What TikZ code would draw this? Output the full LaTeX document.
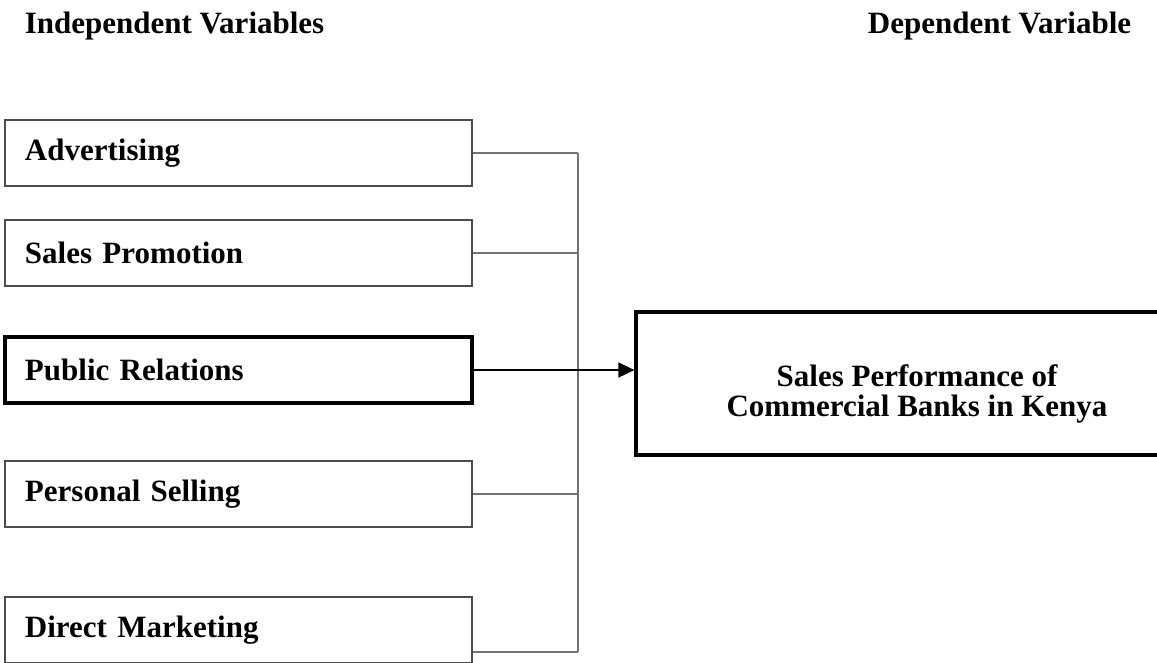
\documentclass[tikz,border=0pt]{standalone}
\usepackage{fontspec}
\setmainfont{Liberation Serif}
\usetikzlibrary{arrows.meta}

\begin{document}
\begin{tikzpicture}[x=0.4pt, y=-0.4pt,
  every node/.style={font=\fontsize{12.4}{12}\selectfont\bfseries},
  ivar/.style={draw=black!70, line width=0.5pt, text width=170.8pt,
    inner xsep=8pt, minimum height=26.4pt, align=left},
  dvar/.style={draw=black, line width=1.3pt, minimum width=224.8pt,
    minimum height=57.2pt},
  link/.style={draw=black!55, line width=0.55pt}]
  \useasboundingbox (0,0) rectangle (1157,662);
  \clip (0,0) rectangle (1157,662);
  \node [anchor=base west] (ivtitle) at (16,33) {Independent Variables};
  \node [anchor=base east] (dvtitle) at (1140,33) {Dependent Variable};
  \node [ivar] (adv) at (238.5,153) {Advertising};
  \node [ivar] (sp) [below of=adv, node distance=40pt] {Sales Promotion};
  \node [ivar, draw=black, line width=1.4pt] (pr) [below of=sp, node distance=46.8pt] {Public Relations};
  \node [ivar] (ps) [below of=pr, node distance=49.6pt] {Personal Selling};
  \node [ivar] (dm) [below of=ps, node distance=54.4pt] {Direct Marketing};
  \node [dvar] (perf) at (917,383.5) {};
  \node [align=center] (perftxt) at (917,394) {Sales Performance of\\Commercial Banks in Kenya};
  \coordinate (bus) at (578,153);
  \coordinate (dmout) at ([yshift=-8.8pt]dm.east);
  \path[link]
  (adv.east) edge (adv.east -| bus)
  (sp.east) edge (sp.east -| bus)
  (ps.east) edge (ps.east -| bus)
  (dmout) edge (dmout -| bus)
  (adv.east -| bus) edge (dmout -| bus);
  \path[-{Triangle[length=6.4pt,width=6pt]}]
  (pr.east) edge [draw=black, line width=0.7pt] (pr.east -| perf.west);
\end{tikzpicture}
\end{document}
